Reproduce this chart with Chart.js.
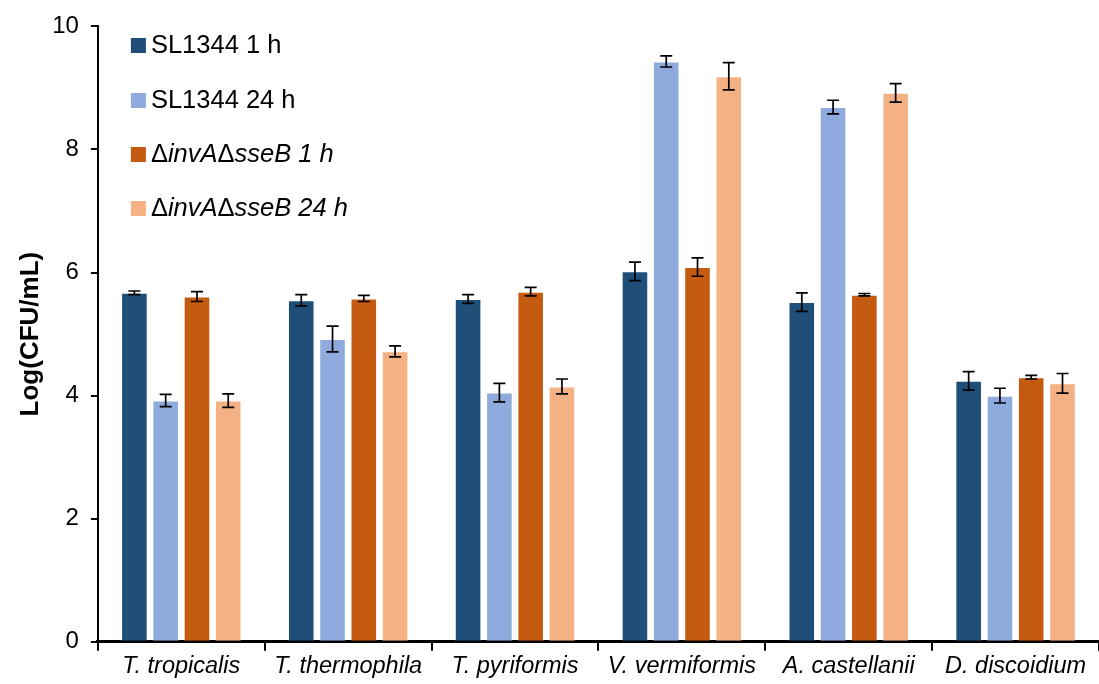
<!DOCTYPE html>
<html>
<head>
<meta charset="utf-8">
<script src="https://cdn.jsdelivr.net/npm/chart.js@4"></script>
<style>
html,body{margin:0;padding:0;background:#fff;}
#wrap{width:1099px;height:684px;position:relative;}
</style>
</head>
<body>
<div id="wrap"><canvas id="c" width="1099" height="684"></canvas></div>
<script>
const categories = ["T. tropicalis","T. thermophila","T. pyriformis","V. vermiformis","A. castellanii","D. discoidium"];
const seriesNames = ["SL1344 1 h","SL1344 24 h","ΔinvAΔsseB 1 h","ΔinvAΔsseB 24 h"];
const sl1h      = [5.67, 5.55, 5.57, 6.02, 5.52, 4.24];
const sl1hErr   = [0.03, 0.09, 0.07, 0.15, 0.15, 0.15];
const sl24h     = [3.92, 4.92, 4.05, 9.43, 8.69, 4.00];
const sl24hErr  = [0.10, 0.21, 0.15, 0.09, 0.11, 0.12];
const dd1h      = [5.61, 5.58, 5.69, 6.09, 5.64, 4.30];
const dd1hErr   = [0.08, 0.05, 0.07, 0.15, 0.02, 0.03];
const dd24h     = [3.92, 4.72, 4.15, 9.19, 8.92, 4.20];
const dd24hErr  = [0.11, 0.09, 0.12, 0.22, 0.15, 0.16];
const yTicks    = [0, 2, 4, 6, 8, 10];

const colors = ["#1f4e79", "#8faadc", "#c55a11", "#f4b183"];
const values = [sl1h, sl24h, dd1h, dd24h];
const errors = [sl1hErr, sl24hErr, dd1hErr, dd24hErr];

const FONT = "'Liberation Sans', Arial, sans-serif";

const errorBarPlugin = {
  id: 'errorBars',
  afterDatasetsDraw(chart) {
    const ctx = chart.ctx;
    const y = chart.scales.y;
    ctx.save();
    ctx.strokeStyle = '#000';
    ctx.lineWidth = 1.7;
    chart.data.datasets.forEach((ds, di) => {
      const meta = chart.getDatasetMeta(di);
      meta.data.forEach((bar, i) => {
        const v = ds.data[i], e = ds.errors[i];
        const yt = y.getPixelForValue(v + e);
        const yb = y.getPixelForValue(v - e);
        const cx = bar.x, hw = 6;
        ctx.beginPath();
        ctx.moveTo(cx, yt); ctx.lineTo(cx, yb);
        ctx.moveTo(cx - hw, yt); ctx.lineTo(cx + hw, yt);
        ctx.moveTo(cx - hw, yb); ctx.lineTo(cx + hw, yb);
        ctx.stroke();
      });
    });
    ctx.restore();
  }
};

const legendPlugin = {
  id: 'customLegend',
  afterDraw(chart) {
    const ctx = chart.ctx;
    const ca = chart.chartArea;
    const x0 = ca.left + 33;
    const ys = [45, 100, 154, 208];
    ctx.save();
    ctx.textBaseline = 'middle';
    seriesNames.forEach((name, i) => {
      const yc = ys[i];
      ctx.fillStyle = colors[i];
      ctx.fillRect(x0, yc - 7, 15, 15);
      ctx.fillStyle = '#000';
      let x = x0 + 20;
      if (i < 2) {
        ctx.font = '25.5px ' + FONT;
        ctx.fillText(name, x, yc + 1);
      } else {
        const parts = name.split(/(Δ)/).filter(s => s.length);
        parts.forEach(p => {
          ctx.font = (p === 'Δ' ? '' : 'italic ') + '25.5px ' + FONT;
          ctx.fillText(p, x, yc + 1);
          x += ctx.measureText(p).width;
        });
      }
    });
    ctx.restore();
  }
};

new Chart(document.getElementById('c'), {
  type: 'bar',
  data: {
    labels: categories,
    datasets: seriesNames.map((n, i) => ({
      label: n,
      data: values[i],
      errors: errors[i],
      backgroundColor: colors[i],
      borderColor: 'rgba(255,255,255,0.35)',
      borderWidth: 1,
      categoryPercentage: 0.75,
      barPercentage: 0.85
    }))
  },
  options: {
    responsive: false,
    animation: false,
    devicePixelRatio: 1,
    layout: { padding: { left: 15, right: 0, top: 18, bottom: 1 } },
    plugins: { legend: { display: false }, tooltip: { enabled: false } },
    scales: {
      x: {
        grid: { display: true, drawOnChartArea: false, offset: true, color: '#000', lineWidth: 2, tickLength: 9 },
        border: { display: true, color: '#000', width: 3 },
        ticks: { color: '#000', font: { family: FONT, size: 23.5, style: 'italic' }, padding: 2, maxRotation: 0 }
      },
      y: {
        min: 0, max: 10,
        afterBuildTicks(scale) { scale.ticks = yTicks.map(v => ({ value: v })); },
        grid: { display: true, drawOnChartArea: false, color: '#000', lineWidth: 2, tickLength: 7 },
        border: { display: true, color: '#000', width: 2 },
        ticks: { color: '#000', font: { family: FONT, size: 24 }, padding: 12 },
        title: { display: true, text: 'Log(CFU/mL)', color: '#000', font: { family: FONT, size: 26, weight: 'bold' }, padding: { top: 0, bottom: -6 } }
      }
    }
  },
  plugins: [errorBarPlugin, legendPlugin]
});
</script>
</body>
</html>
